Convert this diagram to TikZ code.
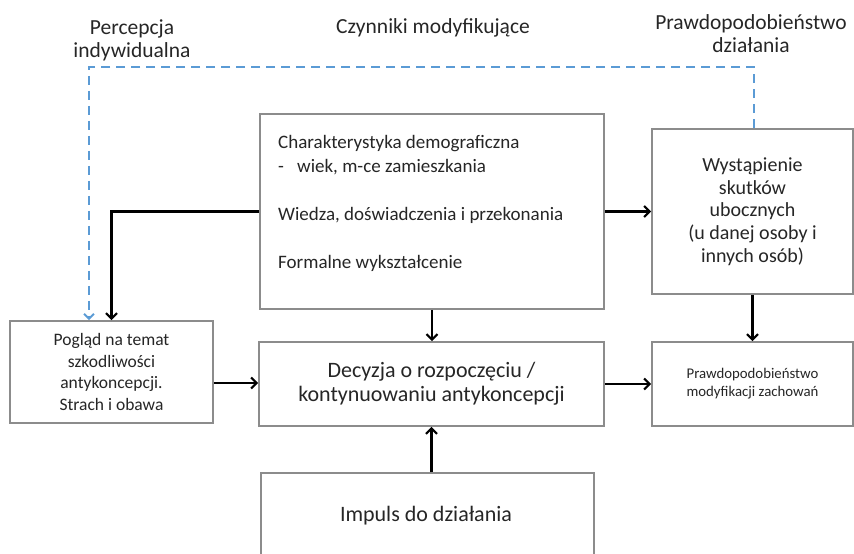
\documentclass[tikz,border=0pt]{standalone}
\usepackage{fontspec}
\setmainfont{Carlito}
\usetikzlibrary{arrows.meta}
\definecolor{txt}{HTML}{262626}
\definecolor{frame}{HTML}{8C8C8C}
\definecolor{dashblue}{HTML}{5B9BD5}
\tikzset{
  box/.style={draw=frame, line width=1.6pt, fill=white, inner sep=0pt, text=txt, align=center},
  title/.style={text=txt, align=center, font=\fontsize{21.5}{23}\selectfont, inner sep=0pt},
  flow/.style={line width=2.4pt, -{Straight Barb[length=5.5pt,width=11pt,line width=2.2pt]}},
  feedback/.style={draw=dashblue, line width=2.2pt, dash pattern=on 9pt off 6pt,
    -{Straight Barb[length=5pt,width=10pt,line width=2pt]}},
}
\begin{document}
\begin{tikzpicture}[x=1pt,y=-1pt]
\useasboundingbox (0,0) rectangle (854,554);

% column headings
\node[title] (hpercep) at (132,40) {Percepcja\\indywidualna};
\node[title] (hczyn) at (433,28) {Czynniki modyfikujące};
\node[title] (hprawd) at (751,34) {Prawdopodobieństwo\\działania};

% boxes
\node[box, minimum width=203pt, minimum height=102pt,
      font=\fontsize{17.5}{21.5}\selectfont] (pog) at (111.5,372)
  {Pogląd na temat\\szkodliwości\\antykoncepcji.\\Strach i obawa};

\node[box, minimum width=344pt, minimum height=195pt] (char) at (432,211.5) {};
\node[text=txt, anchor=west, align=left, inner sep=0pt,
      font=\fontsize{19}{24}\selectfont] (chartxt) at (278,203)
  {Charakterystyka demograficzna\\
   \makebox[19pt][l]{-}wiek, m-ce zamieszkania\\[24pt]
   Wiedza, doświadczenia i przekonania\\[24pt]
   Formalne wykształcenie};

\node[box, minimum width=345pt, minimum height=84pt,
      font=\fontsize{22}{24}\selectfont] (dec) at (431.5,384)
  {Decyzja o rozpoczęciu /\\kontynuowaniu antykoncepcji};

\node[box, minimum width=333pt, minimum height=87pt] (imp) at (427.5,516.5) {};
\node[text=txt, inner sep=0pt, font=\fontsize{22}{26}\selectfont] (imptxt) at (426,516)
  {Impuls do działania};

\node[box, minimum width=201pt, minimum height=165pt,
      font=\fontsize{20}{22.7}\selectfont] (wys) at (752.5,211.5)
  {Wystąpienie\\skutków\\ubocznych\\(u danej osoby i\\innych osób)};

\node[box, minimum width=201pt, minimum height=84pt,
      font=\fontsize{14.8}{18}\selectfont] (pm) at (752.5,384)
  {Prawdopodobieństwo\\modyfikacji zachowań};

% feedback loop
\coordinate (dr) at (754,67);
\coordinate (dl) at (89,67);
\draw[feedback] (wys.north -| dr) -- (dr) -- (dl) -- (dl |- pog.north);

% connectors
\draw[flow] (char.west) -| (pog.north);
\draw[flow] (char.east) -- (wys.west);
\draw[flow] (char.south) -- (char.south |- dec.north);
\draw[flow] (wys.south) -- (pm.north);
\draw[flow] (pog.east |- 0,383) -- (dec.west |- 0,383);
\draw[flow] (dec.east) -- (pm.west);
\draw[flow] (dec.south |- imp.north) -- (dec.south);
\end{tikzpicture}
\end{document}
